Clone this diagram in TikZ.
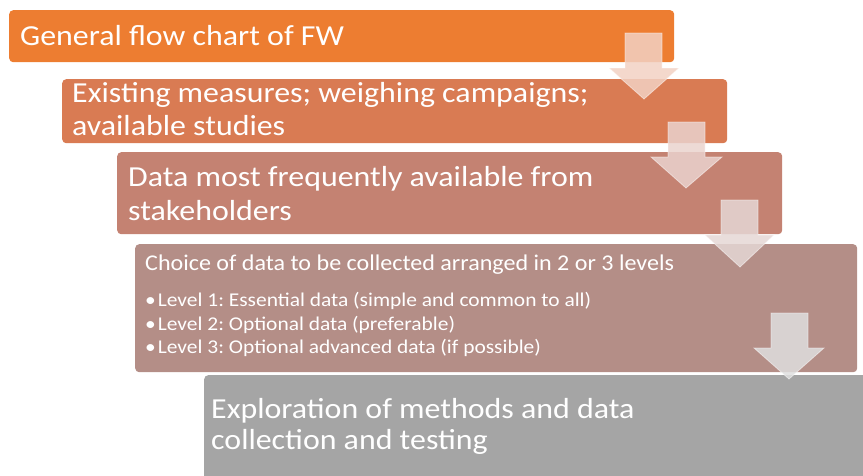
\documentclass[tikz,border=0pt]{standalone}
\usepackage{fontspec}
\setmainfont{Carlito}
\newfontfamily\bigfont[FakeStretch=1.10]{Carlito}
\newfontfamily\headfont[FakeStretch=1.07]{Carlito}
\newfontfamily\bulfont[FakeStretch=1.10]{Carlito}
\definecolor{cA}{HTML}{ED7D31}
\definecolor{cB}{HTML}{D97B53}
\definecolor{cC}{HTML}{C48272}
\definecolor{cD}{HTML}{B48E87}
\definecolor{cE}{HTML}{A5A5A5}
\frenchspacing
\begin{document}
\begin{tikzpicture}[x=1pt,y=-1pt,
  blk/.style={rounded corners=4pt, anchor=north west, inner sep=0pt, draw=none},
  big/.style={font=\bigfont\fontsize{29}{33}\selectfont, text=white, anchor=base west, inner sep=0pt},
  head/.style={font=\headfont\fontsize{22.5}{25}\selectfont, text=white, anchor=base west, inner sep=0pt},
  bul/.style={font=\bulfont\fontsize{19.5}{22}\selectfont, text=white, anchor=base west, inner sep=0pt},
  arr/.style={draw=white, draw opacity=0.5, line width=0.8pt, fill opacity=0.85}]
\useasboundingbox (0,0) rectangle (863,475);
% boxes
\node[blk, fill=cA, minimum width=665pt, minimum height=52pt] (b1) at (9,10) {};
\node[blk, fill=cB, minimum width=665pt, minimum height=64pt] (b2) at (62,79) {};
\node[blk, fill=cC, minimum width=665pt, minimum height=82pt] (b3) at (117,152) {};
\node[blk, fill=cD, minimum width=722pt, minimum height=128pt] (b4) at (135,244) {};
\node[blk, fill=cE, minimum width=680pt, minimum height=120pt] (b5) at (204,375) {};
% texts
\node[big] (t1) at (20,45) {General flow chart of FW};
\node[big] (t2a) at (72,102) {Existing measures; weighing campaigns;};
\node[big] (t2b) at (72,135) {available studies};
\node[big] (t3a) at (128,186) {Data most frequently available from};
\node[big] (t3b) at (128,220) {stakeholders};
\node[head] (t4) at (145,270) {Choice of data to be collected arranged in 2 or 3 levels};
\node[bul] (l1) at (145,306) {•\hspace{2pt}Level 1: Essential data (simple and common to all)};
\node[bul] (l2) at (145,330) {•\hspace{2pt}Level 2: Optional data (preferable)};
\node[bul] (l3) at (145,353) {•\hspace{2pt}Level 3: Optional advanced data (if possible)};
\node[big] (t5a) at (211,418) {Exploration of methods and data};
\node[big] (t5b) at (211,449) {collection and testing};
% arrows
\filldraw[arr, fill=cB!35!white] (625,33) -- (662,33) -- (662,68) -- (679,68) -- (644,99) -- (609,68) -- (625,68) -- cycle;
\filldraw[arr, fill=cC!35!white] (668,122) -- (705,122) -- (705,157) -- (722,157) -- (686,188) -- (651,157) -- (668,157) -- cycle;
\filldraw[arr, fill=cD!35!white] (721,200) -- (758,200) -- (758,235) -- (774,235) -- (740,267) -- (705,235) -- (721,235) -- cycle;
\filldraw[arr, fill=cE!35!white] (771,313) -- (808,313) -- (808,348) -- (824,348) -- (789,379) -- (754,348) -- (771,348) -- cycle;
\end{tikzpicture}
\end{document}
